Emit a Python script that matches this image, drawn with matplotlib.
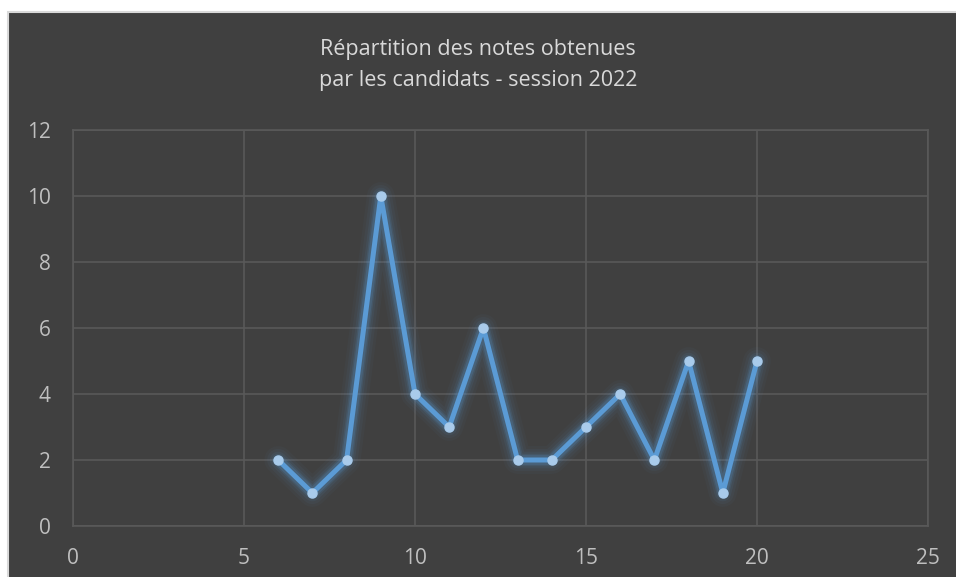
import matplotlib.pyplot as plt
from matplotlib.patches import Rectangle

# notes sur 20 et nombre de candidats
notes = [6, 7, 8, 9, 10, 11, 12, 13, 14, 15, 16, 17, 18, 19, 20]
effectifs = [2, 1, 2, 10, 4, 3, 6, 2, 2, 3, 4, 2, 5, 1, 5]
titre = 'Répartition des notes obtenues\npar les candidats - session 2022'

plt.rcParams['font.family'] = ['Open Sans', 'DejaVu Sans']

W, H = 956, 577
fig = plt.figure(figsize=(W / 100, H / 100), dpi=100)
fig.patch.set_facecolor('white')

# fond sombre du graphique
bg = Rectangle((8 / W, -0.01), 1.02, 1 - 12 / H + 0.01, transform=fig.transFigure,
               facecolor='#404040', edgecolor='#d9d9d9', linewidth=1.5, zorder=-5)
fig.patches.append(bg)

ax = fig.add_axes([73 / W, 1 - 526 / H, (928 - 73) / W, (526 - 130) / H])
ax.set_zorder(1)
ax.set_facecolor('#404040')
ax.set_xlim(0, 25)
ax.set_ylim(0, 12)
ax.set_xticks(range(0, 26, 5))
ax.set_yticks(range(0, 13, 2))
ax.grid(True, color='#595959', linewidth=1.2)
ax.set_axisbelow(True)
for s in ax.spines.values():
    s.set_color('#595959')
    s.set_linewidth(1.2)
ax.tick_params(length=0, colors='#bfbfbf', labelsize=15)
ax.tick_params(axis='x', pad=16)
ax.tick_params(axis='y', pad=16)

# halo lumineux
for lw, a in [(20, 0.04), (16, 0.05), (12, 0.08), (9, 0.12), (7, 0.18)]:
    ax.plot(notes, effectifs, color='#5b9bd5', linewidth=lw, alpha=a,
            solid_capstyle='round', solid_joinstyle='round', clip_on=False)
ax.plot(notes, effectifs, color='#5b9bd5', linewidth=3.6,
        solid_capstyle='round', solid_joinstyle='round', clip_on=False)
ax.plot(notes, effectifs, linestyle='none', marker='o', markersize=6.5,
        markerfacecolor='#a9cbeb', markeredgecolor='#a9cbeb', clip_on=False)

fig.text(478 / W, 1 - 65 / H, titre, ha='center', va='center', color='#d9d9d9',
         fontsize=15.5, linespacing=1.6)

fig.savefig('out.png', dpi=100, facecolor=fig.get_facecolor())
